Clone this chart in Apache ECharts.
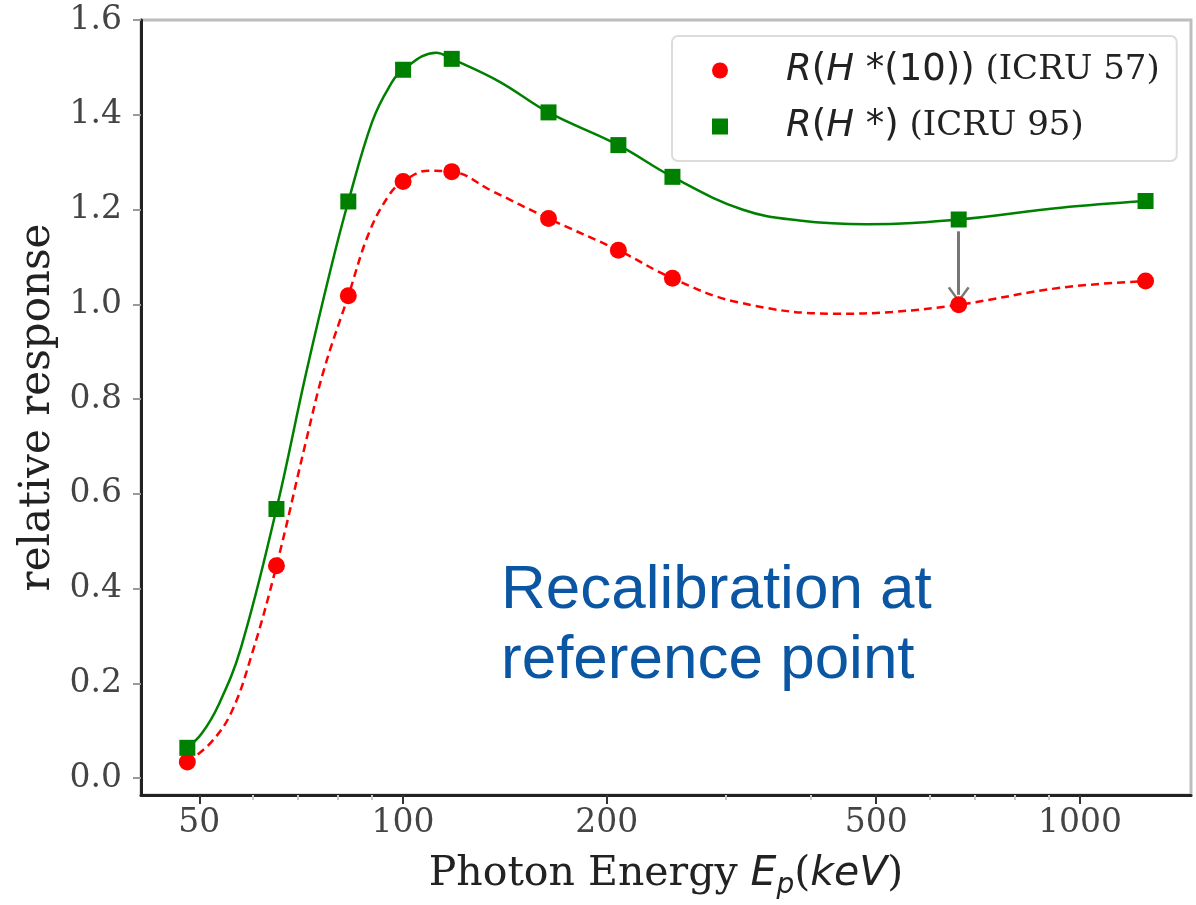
<!DOCTYPE html>
<html>
<head>
<meta charset="utf-8">
<title>relative response</title>
<script src="https://cdn.jsdelivr.net/npm/echarts@6/dist/echarts.min.js"></script>
<style>
  html, body { margin: 0; padding: 0; background: #fff; }
  #chart { width: 1196px; height: 905px; }
</style>
</head>
<body>
<div id="chart"></div>
<script>
// measured points (photon energy in keV)
const energyPts = [48, 65, 83, 100, 118, 164, 208, 250, 662, 1250];
const h10Pts = [0.034, 0.448, 1.018, 1.259, 1.280, 1.181, 1.114, 1.055, 0.999, 1.049];
const hStarPts = [0.064, 0.568, 1.217, 1.495, 1.518, 1.405, 1.336, 1.269, 1.179, 1.218];

// fitted curves
const hStarCurveE = [48, 50.4, 53.4, 57.6, 65, 71.9, 78.5, 83, 90, 95.3, 100, 111.9, 118, 138.7, 164, 208, 250, 317, 385, 484, 662, 937, 1250];
const hStarCurveR = [0.064, 0.094, 0.155, 0.275, 0.568, 0.855, 1.085, 1.217, 1.385, 1.458, 1.495, 1.531, 1.518, 1.470, 1.405, 1.336, 1.269, 1.200, 1.177, 1.169, 1.179, 1.204, 1.218];
const h10CurveE = [48, 52, 55.8, 59.8, 65, 71.9, 76.4, 83, 89, 95.3, 100, 109, 118, 135, 164, 208, 250, 311, 437, 528, 662, 937, 1250];
const h10CurveR = [0.034, 0.075, 0.140, 0.262, 0.448, 0.712, 0.862, 1.018, 1.150, 1.230, 1.259, 1.282, 1.280, 1.240, 1.181, 1.114, 1.055, 1.005, 0.980, 0.984, 0.999, 1.035, 1.049];

// axis ticks
const xMajorTicks = [50, 100, 200, 500, 1000];
const xMinorTicks = [60, 70, 80, 90, 300, 400, 600, 700, 800, 900];
const yTicks = [0, 0.2, 0.4, 0.6, 0.8, 1.0, 1.2, 1.4, 1.6];

// recalibration arrow (Cs-137 reference point)
const arrowE = 662;
const arrowFrom = 1.154;
const arrowTo = 1.020;

function zip(xs, ys) {
  return xs.map(function(x, i) { return [x, ys[i]]; });
}

const xMin = 41, xMax = 1459;
const serif = "'DejaVu Serif', serif";
const sans = "'DejaVu Sans', sans-serif";

const option = {
  backgroundColor: '#fff',
  animation: false,
  grid: {
    left: 141, right: 5, top: 20, bottom: 104,
    show: true, borderColor: '#bdbdbd', borderWidth: 3
  },
  legend: {
    data: ['h10', 'hstar'],
    orient: 'vertical',
    left: 672, top: 36,
    padding: [16, 17, 16, 40],
    itemGap: 19,
    itemWidth: 16, itemHeight: 16,
    borderColor: '#dcdcdc', borderWidth: 2, borderRadius: 6,
    formatter: function(name) {
      if (name === 'h10') {
        return '{s|}{i|R}{n|(}{i|H}{n| *(10))}{c| (ICRU 57)}';
      }
      return '{s|}{i|R}{n|(}{i|H}{n| *)}{c| (ICRU 95)}';
    },
    textStyle: {
      color: '#222',
      rich: {
        s: { width: 53 },
        i: { fontFamily: sans, fontStyle: 'italic', fontSize: 37, lineHeight: 40, color: '#222' },
        n: { fontFamily: sans, fontSize: 37, lineHeight: 40, color: '#222' },
        c: { fontFamily: serif, fontSize: 34, lineHeight: 40, color: '#222' }
      }
    }
  },
  xAxis: [
    {
      type: 'log', logBase: 10, min: xMin, max: xMax,
      position: 'bottom',
      name: '{a|Photon Energy }{i|E}{s|p}{a|(}{i|keV}{a|)}',
      nameLocation: 'middle', nameGap: 53,
      nameTextStyle: {
        rich: {
          a: { fontFamily: serif, fontSize: 41, lineHeight: 52, color: '#222' },
          i: { fontFamily: sans, fontStyle: 'italic', fontSize: 41, lineHeight: 52, color: '#222' },
          s: { fontFamily: sans, fontStyle: 'italic', fontSize: 28, lineHeight: 30, verticalAlign: 'bottom', color: '#222' }
        }
      },
      axisLine: { show: true, onZero: false, lineStyle: { color: '#222', width: 3 } },
      axisTick: { show: true, customValues: xMajorTicks, length: 9, lineStyle: { color: '#333', width: 2 } },
      axisLabel: {
        customValues: xMajorTicks, margin: 12,
        fontFamily: serif, fontSize: 33, color: '#444',
        formatter: function(v) { return String(Math.round(v)); }
      },
      splitLine: { show: false },
      minorTick: { show: false }
    },
    {
      type: 'log', logBase: 10, min: xMin, max: xMax,
      position: 'bottom',
      axisLine: { show: false, onZero: false },
      axisTick: { show: true, customValues: xMinorTicks, length: 5, lineStyle: { color: '#c8c8c8', width: 2 } },
      axisLabel: { show: false },
      splitLine: { show: false }
    }
  ],
  yAxis: {
    type: 'value', min: -0.0356, max: 1.6,
    name: 'relative response',
    nameLocation: 'middle', nameGap: 78,
    nameTextStyle: { fontFamily: serif, fontSize: 42, color: '#222' },
    axisLine: { show: true, onZero: false, lineStyle: { color: '#222', width: 3 } },
    axisTick: { show: true, customValues: yTicks, length: 8, lineStyle: { color: '#999', width: 2 } },
    axisLabel: {
      customValues: yTicks, margin: 19,
      fontFamily: serif, fontSize: 33, color: '#444',
      formatter: function(v) { return v.toFixed(1); }
    },
    splitLine: { show: false }
  },
  graphic: [
    {
      type: 'text', left: 501, top: 556, z: 50,
      style: {
        text: 'Recalibration at\nreference point',
        font: "62px 'Liberation Sans', Arial, sans-serif",
        lineHeight: 70,
        fill: '#0b56a3'
      }
    }
  ],
  series: [
    {
      name: 'hstarCurve', type: 'line', xAxisIndex: 0,
      data: zip(hStarCurveE, hStarCurveR),
      smooth: 0.4, showSymbol: false, symbol: 'none',
      lineStyle: { color: '#008000', width: 2.5 },
      z: 2
    },
    {
      name: 'h10Curve', type: 'line', xAxisIndex: 0,
      data: zip(h10CurveE, h10CurveR),
      smooth: 0.4, showSymbol: false, symbol: 'none',
      lineStyle: { color: '#ff0000', width: 2.5, type: [8, 5] },
      z: 2,
      markLine: {
        silent: true,
        symbol: ['none', 'path://M10,0 L20,14 L18,15 L10,3.5 L2,15 L0,14 Z'],
        symbolSize: [22, 16],
        label: { show: false },
        lineStyle: { color: '#777', width: 3, type: 'solid' },
        data: [[{ coord: [arrowE, arrowFrom] }, { coord: [arrowE, arrowTo] }]]
      }
    },
    {
      name: 'h10', type: 'scatter', xAxisIndex: 0,
      data: zip(energyPts, h10Pts),
      symbol: 'circle', symbolSize: 17,
      itemStyle: { color: '#ff0000', opacity: 1 },
      z: 5
    },
    {
      name: 'hstar', type: 'scatter', xAxisIndex: 0,
      data: zip(energyPts, hStarPts),
      symbol: 'rect', symbolSize: 16,
      itemStyle: { color: '#008000', opacity: 1 },
      z: 6
    }
  ]
};

const chart = echarts.init(document.getElementById('chart'), null, { renderer: 'canvas' });
chart.setOption(option);
</script>
</body>
</html>
